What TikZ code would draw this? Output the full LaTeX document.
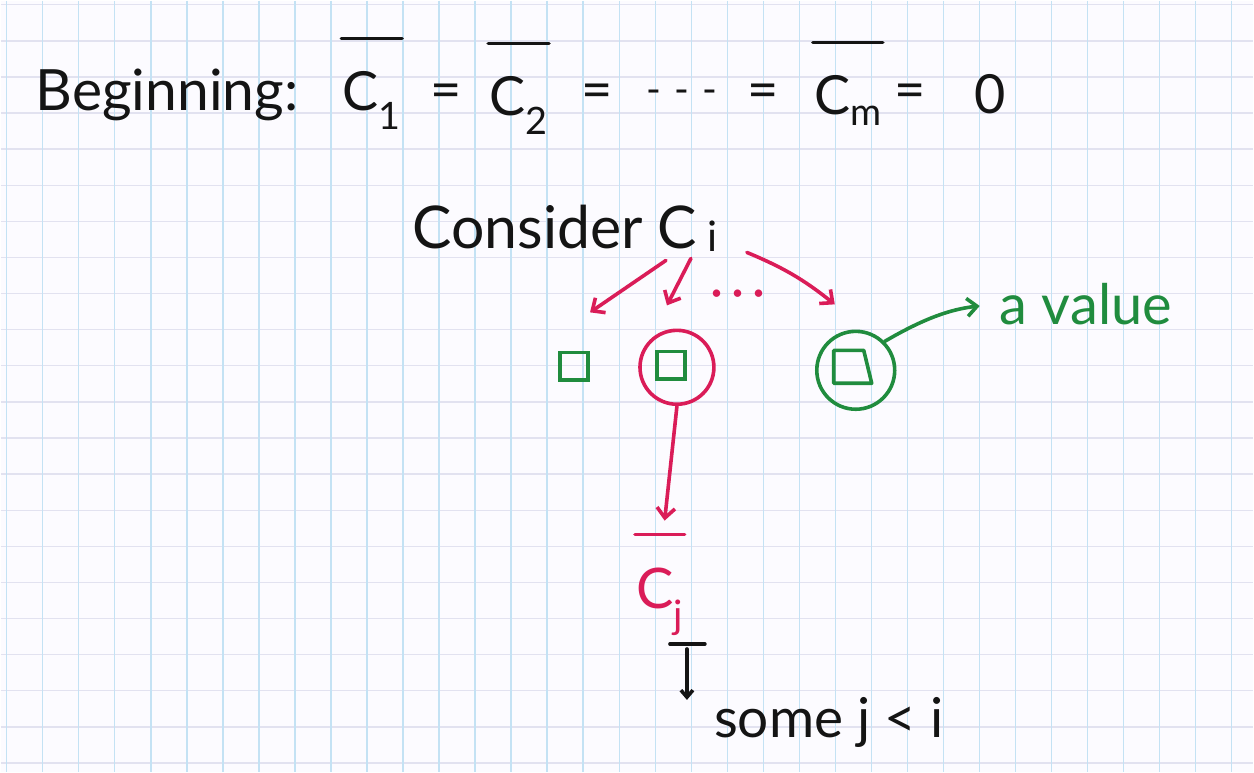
\documentclass[tikz,border=0pt]{standalone}
\usepackage{fontspec}
\setmainfont{Lato}
\usepackage{tikz}
\usetikzlibrary{positioning, shapes.geometric, arrows.meta, calc}

\definecolor{paper}{RGB}{252,251,255}
\definecolor{gridv}{RGB}{196,226,244}
\definecolor{gridh}{RGB}{226,226,240}
\definecolor{ink}{RGB}{20,20,20}
\definecolor{pinkred}{RGB}{218,28,88}
\definecolor{penGreen}{RGB}{32,140,62}

\begin{document}
\begin{tikzpicture}[
    x=1pt, y=-1pt,
    hand/.style={text=ink, font=\fontsize{54}{60}\selectfont, inner sep=2pt},
    redhand/.style={text=pinkred, font=\fontsize{56}{62}\selectfont, inner sep=2pt},
    greenhand/.style={text=penGreen, font=\fontsize{56}{62}\selectfont, inner sep=2pt},
    overbar/.style={append after command={
        ([shift={(1pt,31pt)}]\tikzlastnode.north west) edge[draw=#1, line width=3.6pt, line cap=round]
        ([shift={(-1pt,31pt)}]\tikzlastnode.north east)}},
    pick/.style={draw=pinkred, line width=3.6pt, line cap=round, -{Straight Barb[length=10pt, width=18pt, line width=3.6pt]}},
    note/.style={draw=ink, line width=3.6pt, line cap=round, -{Straight Barb[length=7pt, width=12pt, line width=3.6pt]}},
    valuearrow/.style={draw=penGreen, line width=3.6pt, line cap=round, -{Straight Barb[length=10pt, width=18pt, line width=3.6pt]}},
    valbox/.style={draw=penGreen, line width=3.6pt, rectangle, minimum size=28pt, inner sep=0pt},
    ring/.style={circle, line width=3.6pt, inner sep=0pt}
]

% Papier
\fill[paper] (0,0) rectangle (1254,772);
\foreach \k in {0,...,21}
  \draw[gridh, line width=1.4pt] (0,{4+36.15*\k}) -- (1254,{4+36.15*\k});
\foreach \k in {0,...,34}
  \draw[gridv, line width=1.4pt] ({6+36.07*\k},0) -- ({6+36.07*\k},772);

% Knoten
\node[hand, anchor=base west, font=\fontsize{57}{62}\selectfont] (begin) at (33,110) {Beginning:};
\node[hand, anchor=base west, overbar=ink] (c1) at (340,110) {C\textsubscript{1}};
\node[hand] (eqa) at (446,96) {=};
\node[hand, anchor=base west, overbar=ink] (c2) at (487,115) {C\textsubscript{2}};
\node[hand] (eqb) at (597,96) {=};
\node[hand, font=\fontsize{40}{44}\selectfont] (dots) at (682,96) {-\,\,-\,\,-};
\node[hand] (eqc) at (763,96) {=};
\node[hand, anchor=base west, overbar=ink] (cm) at (812,114) {C\textsubscript{m}};
\node[hand] (eqd) at (910,96) {=};
\node[hand] (zero) at (991,94) {0};

\node[hand, anchor=base west, font=\fontsize{59}{64}\selectfont] (consider) at (410,248)
  {Consider C\,\raisebox{-3pt}{\fontsize{42}{46}\selectfont i}};

\node[redhand, font=\fontsize{50}{56}\selectfont, text height=6pt, text depth=0pt, inner sep=0pt, anchor=base]
  (gap) at (738,308) {·\,·\,·};

\node[valbox] (s1) at (574,366) {};
\node[valbox] (s2) at (671,365) {};
\node[ring, draw=pinkred, minimum size=74pt] (ring2) at (677,367) {};
\coordinate (s3) at (853,367);
\draw[draw=penGreen, line width=3.6pt, line join=round]
  (s3) ++(-19,-17) -- ++(30,0) -- ++(8,33) -- ++(-38,0) -- cycle;
\node[ring, draw=penGreen, minimum size=78pt] (ring3) at (856,370) {};
\node[greenhand, anchor=base west] (value) at (998,324) {a value};

\node[redhand, anchor=base west, overbar=pinkred] (cj) at (634,608) {C\textsubscript{j}};
\coordinate (jmark) at (687,644);
\node[hand, anchor=base west, font=\fontsize{55}{60}\selectfont] (some) at (712,738) {some j < i};

% Kanten
\draw[pick] ([shift={(256pt,-12pt)}]consider.base west) -- ([shift={(16pt,54pt)}]s1.center);
\draw[pick] ([shift={(281pt,-10pt)}]consider.base west) -- ([shift={(-4pt,60pt)}]s2.center);
\draw[pick] ([shift={(337pt,-4pt)}]consider.base west) to[bend left=8] ([shift={(-18pt,63pt)}]s3);
\draw[valuearrow, shorten >=18pt] (ring3.45) to[bend left=12] (value.west);
\draw[pick, shorten >=45pt] (ring2.south) -- (cj.north);
\draw[draw=ink, line width=3.6pt, line cap=round] ([xshift=-17pt]jmark) -- ([xshift=18pt]jmark);
\draw[note] ([yshift=-5pt]jmark) -- ([yshift=-56pt]jmark);

\end{tikzpicture}
\end{document}
